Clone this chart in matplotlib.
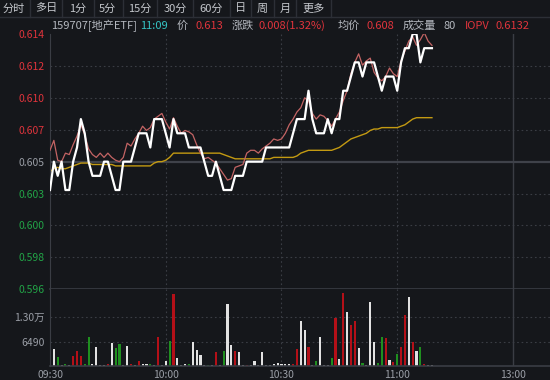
import numpy as np
import matplotlib.pyplot as plt
from matplotlib.lines import Line2D

plt.rcParams['font.family'] = ['Noto Sans CJK SC', 'DejaVu Sans']

# minute index from 09:30 (0..99 -> 11:09)
price = [0.603, 0.605, 0.604, 0.605, 0.603, 0.603, 0.605, 0.606, 0.608, 0.607,
         0.605, 0.604, 0.604, 0.604, 0.605, 0.605, 0.604, 0.603, 0.603, 0.605,
         0.605, 0.605, 0.606, 0.607, 0.607, 0.607, 0.606, 0.608, 0.608, 0.608,
         0.607, 0.606, 0.608, 0.607, 0.607, 0.607, 0.606, 0.606, 0.606, 0.606,
         0.605, 0.604, 0.604, 0.605, 0.604, 0.603, 0.603, 0.603, 0.604, 0.604,
         0.604, 0.605, 0.605, 0.605, 0.605, 0.605, 0.606, 0.606, 0.606, 0.606,
         0.606, 0.606, 0.606, 0.607, 0.608, 0.608, 0.608, 0.610, 0.608, 0.607,
         0.607, 0.607, 0.608, 0.607, 0.608, 0.608, 0.610, 0.610, 0.611, 0.612,
         0.612, 0.611, 0.612, 0.612, 0.612, 0.611, 0.610, 0.611, 0.611, 0.611,
         0.610, 0.612, 0.613, 0.613, 0.614, 0.614, 0.612, 0.613, 0.613, 0.613]

iopv = [0.6058, 0.6065, 0.6051, 0.6050, 0.6056, 0.6055, 0.6062, 0.6068, 0.6076, 0.6069,
        0.6059, 0.6055, 0.6053, 0.6056, 0.6053, 0.6056, 0.6053, 0.6051, 0.6050, 0.6053,
        0.6063, 0.6061, 0.6066, 0.6070, 0.6075, 0.6072, 0.6074, 0.6080, 0.6082, 0.6084,
        0.6078, 0.6073, 0.6081, 0.6075, 0.6070, 0.6072, 0.6071, 0.6069, 0.6062, 0.6056,
        0.6052, 0.6053, 0.6051, 0.6049, 0.6045, 0.6041, 0.6037, 0.6038, 0.6046, 0.6047,
        0.6048, 0.6056, 0.6058, 0.6058, 0.6056, 0.6059, 0.6061, 0.6063, 0.6066, 0.6065,
        0.6066, 0.6070, 0.6076, 0.6080, 0.6085, 0.6088, 0.6095, 0.6093, 0.6084, 0.6080,
        0.6083, 0.6082, 0.6079, 0.6075, 0.6080, 0.6085, 0.6093, 0.6100, 0.6112, 0.6120,
        0.6126, 0.6118, 0.6121, 0.6123, 0.6113, 0.6109, 0.6107, 0.6110, 0.6116, 0.6112,
        0.6110, 0.6121, 0.6128, 0.6135, 0.6138, 0.6132, 0.6136, 0.6141, 0.6135, 0.6132]

avg = [0.6043, 0.6045, 0.6046, 0.6045, 0.6045, 0.6046, 0.6047, 0.6048, 0.6049, 0.6049,
       0.6049, 0.6048, 0.6048, 0.6048, 0.6048, 0.6048, 0.6048, 0.6047, 0.6047, 0.6047,
       0.6047, 0.6047, 0.6047, 0.6047, 0.6047, 0.6047, 0.6047, 0.6049, 0.6050, 0.6050,
       0.6051, 0.6053, 0.6056, 0.6056, 0.6056, 0.6056, 0.6056, 0.6056, 0.6056, 0.6056,
       0.6056, 0.6056, 0.6056, 0.6056, 0.6056, 0.6055, 0.6054, 0.6053, 0.6052, 0.6052,
       0.6052, 0.6052, 0.6052, 0.6052, 0.6052, 0.6052, 0.6052, 0.6052, 0.6053, 0.6053,
       0.6053, 0.6053, 0.6053, 0.6053, 0.6054, 0.6056, 0.6057, 0.6058, 0.6058, 0.6058,
       0.6058, 0.6058, 0.6058, 0.6058, 0.6059, 0.6060, 0.6062, 0.6064, 0.6066, 0.6067,
       0.6068, 0.6069, 0.6070, 0.6072, 0.6073, 0.6073, 0.6074, 0.6074, 0.6074, 0.6074,
       0.6074, 0.6075, 0.6076, 0.6078, 0.6080, 0.6081, 0.6081, 0.6081, 0.6081, 0.6081]

volume = [8770, 4530, 2470, 300, 560, 200, 2740, 4050, 2740, 500,
          7640, 500, 4990, 100, 300, 500, 6220, 4800, 5960, 200,
          5280, 400, 100, 1200, 400, 400, 400, 150, 7830, 150,
          1200, 6600, 19280, 1980, 150, 500, 400, 6330, 4240, 2900,
          150, 300, 150, 3700, 150, 4100, 16470, 5580, 3900, 3800,
          300, 200, 150, 1400, 150, 3700, 150, 300, 600, 700,
          500, 600, 600, 500, 4530, 12040, 9520, 4990, 150, 1400,
          7830, 150, 150, 1980, 12900, 1700, 19470, 14400, 11030, 12040,
          4800, 800, 150, 17030, 6470, 700, 7640, 7350, 1500, 1100,
          3100, 4990, 13660, 18540, 6470, 3900, 4990, 600, 100, 200]

vol_dir = list("wwgwgwrrrg"
               "gwwwwrwggw"
               "wrwrwwgwrw"
               "wgrwwwgwww"
               "wgwrwgwwrw"
               "wrwwwwwwww"
               "wwwrrwwrwg"
               "wwwgrwrwrr"
               "wgwwwggrwr"
               "grrwrwgrww")

price_ticks = [0.596, 0.59825, 0.6005, 0.60275, 0.605, 0.60725, 0.6095, 0.61175, 0.614]
price_labels = ['0.596', '0.598', '0.600', '0.603', '0.605', '0.607', '0.610', '0.612', '0.614']
vol_ticks = [6490, 12980]
vol_labels = ['6490', '1.30万']
time_ticks = [0, 30, 60, 90, 120]
time_labels = ['09:30', '10:00', '10:30', '11:00', '13:00']
menu = ['分时', '多日', '1分', '5分', '15分', '30分', '60分', '日', '周', '月', '更多']

bg = '#15171b'
grid_c = '#3a3d44'
txt = '#b4b8bf'
red = '#e0343c'
green = '#22a447'
xmax = 129.6

fig = plt.figure(figsize=(5.5, 3.8), dpi=100, facecolor=bg)
W, H = 550, 380

def fx(px):
    return px / W

def fy(py):
    return 1 - py / H

# toolbar
fig.add_artist(Line2D([0, 1], [fy(16.5), fy(16.5)], color='#2c2f36', lw=1))
menu_x = [3, 35, 69, 99, 128, 164, 199, 235, 257, 280, 302]
sep_x = [30, 62, 94, 123, 157, 193, 230, 251, 274, 296, 331]
for lab, xx in zip(menu, menu_x):
    fig.text(fx(xx), fy(8.5), lab, color='#c4c7cc', fontsize=8, va='center', ha='left')
for xx in sep_x:
    fig.add_artist(Line2D([fx(xx), fx(xx)], [fy(0), fy(16.5)], color='#2c2f36', lw=1))

# info line
info = [(51.5, '159707[地产ETF]', txt), (140, '11:09', '#35c4c4'), (177, '价', txt),
        (195.5, '0.613', red), (231.5, '涨跌', txt), (258.5, '0.008(1.32%)', red),
        (337.5, '均价', txt), (366.5, '0.608', red), (403, '成交量', txt),
        (443, '80', txt), (464.5, 'IOPV', red), (496, '0.6132', red)]
for xx, s, c in info:
    fig.text(fx(xx), fy(26), s, color=c, fontsize=8, va='center', ha='left')

ax = fig.add_axes([fx(50), fy(289.3), fx(500), 255.3 / H])
axv = fig.add_axes([fx(50), fy(365.8), fx(500), 76.5 / H])

minutes = np.arange(len(price))

for a in (ax, axv):
    a.set_facecolor(bg)
    a.set_xlim(0, xmax)
    for s in ('top', 'right'):
        a.spines[s].set_visible(False)
    a.spines['left'].set_color(grid_c)
    a.spines['bottom'].set_color(grid_c)
    a.spines['bottom'].set_linewidth(1.2)
    for t in (30, 60, 90):
        a.axvline(t, color=grid_c, lw=0.8, ls=(0, (1.5, 2.5)), zorder=0)
    a.axvline(120, color=grid_c, lw=1.0, zorder=0)

# price panel
ax.set_ylim(0.596, 0.614)
ax.set_yticks(price_ticks)
ax.set_yticklabels(price_labels)
for lab, v in zip(ax.get_yticklabels(), price_ticks):
    if abs(v - 0.605) < 1e-6:
        lab.set_color('#9a9ea6')
    elif v > 0.605:
        lab.set_color(red)
    else:
        lab.set_color(green)
ax.tick_params(axis='y', length=0, pad=4, labelsize=7.5)
ax.set_xticks([])
for v in price_ticks[1:-1]:
    if abs(v - 0.605) < 1e-6:
        ax.axhline(v, color='#3f424a', lw=1.6, zorder=0)
    else:
        ax.axhline(v, color=grid_c, lw=0.8, ls=(0, (1.5, 2.5)), zorder=0)

ax.plot(minutes, avg, color='#c39a12', lw=1.0, zorder=2)
ax.plot(minutes, iopv, color='#c46464', lw=0.9, zorder=3)
ax.plot(minutes, price, color='#ffffff', lw=1.6, zorder=4)

# volume panel
cmap = {'w': '#e2e2e2', 'r': '#b41018', 'g': '#1f8f1f'}
axv.bar(minutes, volume, width=0.55, color=[cmap[c] for c in vol_dir], zorder=2)
axv.set_ylim(0, 20500)
axv.set_yticks(vol_ticks)
axv.set_yticklabels(vol_labels)
axv.tick_params(axis='y', length=0, pad=4, labelsize=7.5, labelcolor='#9a9ea6')
for v in vol_ticks:
    axv.axhline(v, color=grid_c, lw=0.8, ls=(0, (1.5, 2.5)), zorder=0)
axv.set_xticks(time_ticks)
axv.set_xticklabels(time_labels)
axv.tick_params(axis='x', length=0, pad=3, labelsize=7.5, labelcolor='#9a9ea6')

fig.savefig('out.png', dpi=100, facecolor=bg)
